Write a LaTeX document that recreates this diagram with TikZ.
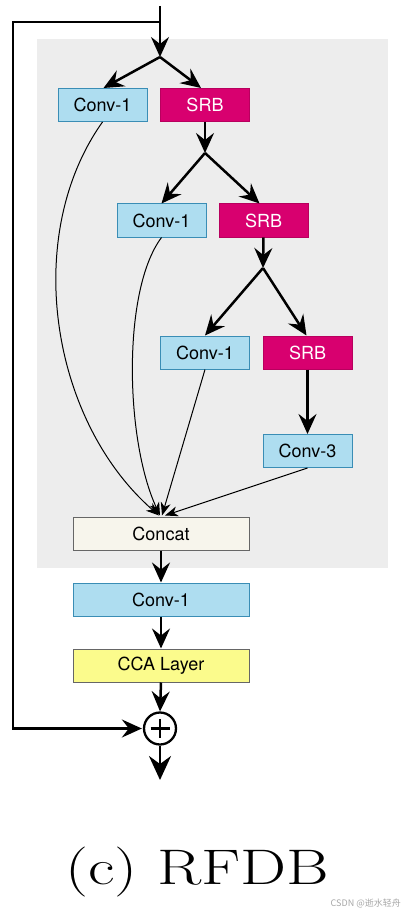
\documentclass[tikz,border=0pt]{standalone}
\usepackage{fontspec}
\newfontfamily\hv{TeX Gyre Heros}
\newfontfamily\cjk{Noto Sans CJK SC}
\usetikzlibrary{arrows.meta,calc}
\definecolor{bgray}{HTML}{EDEDED}
\definecolor{cblue}{HTML}{AEDDF0}
\definecolor{cblueb}{HTML}{3A8DB5}
\definecolor{srbm}{HTML}{D8006F}
\definecolor{srbb}{HTML}{B8005E}
\definecolor{ccat}{HTML}{F7F5EC}
\definecolor{ccay}{HTML}{FBFB8C}
\tikzset{
  blk/.style={draw, line width=1pt, minimum height=33pt, inner sep=0pt, font=\hv\fontsize{18}{20}\selectfont},
  conv/.style={blk, fill=cblue, draw=cblueb, minimum width=89pt},
  srb/.style={blk, fill=srbm, draw=srbb, text=white, minimum width=89pt},
  wide/.style={blk, draw=black!60, minimum width=176pt},
  thk/.style={line width=2.5pt, -{Stealth[length=20pt,width=18pt,inset=7pt]}},
  thkbig/.style={line width=2.5pt, -{Stealth[length=24pt,width=22pt,inset=8pt]}},
  thkn/.style={line width=2.5pt},
  thn/.style={line width=1pt, -{Stealth[length=13pt,width=10pt,inset=4pt]}},
}
\begin{document}
\begin{tikzpicture}[x=1pt,y=-1pt]
\useasboundingbox (0,0) rectangle (405,917);
\fill[bgray] (37,39) rectangle (388,568);

\node[conv] (c1) at (102.5,105) {Conv-1};
\node[srb]  (s1) at (205,105) {SRB};
\node[conv] (c2) at (161.5,220.5) {Conv-1};
\node[srb]  (s2) at (263.5,220.5) {SRB};
\node[conv] (c3) at (205,352.5) {Conv-1};
\node[srb]  (s3) at (307.5,352.5) {SRB};
\node[conv] (k3) at (307.5,451) {Conv-3};
\node[wide, fill=ccat] (cat) at (161,533.5) {Concat};
\node[wide, fill=cblue, draw=cblueb] (cf) at (161,599.5) {Conv-1};
\node[wide, fill=ccay] (cca) at (161,665.5) {CCA Layer};
\node[draw, circle, line width=2.3pt, minimum size=32pt, inner sep=0pt] (plus) at (160,728.5) {};
\draw[line width=2.4pt] ($(plus.center)+(0,-9.5)$) -- ($(plus.center)+(0,9.5)$) ($(plus.center)+(-9.5,0)$) -- ($(plus.center)+(9.5,0)$);

\coordinate (in) at (160,6);
\coordinate (sk) at (160,22);
\coordinate (b1) at (160,57);
\coordinate (b2) at (205,153);
\coordinate (b3) at (263,268);
\coordinate (out) at (160,780);
\coordinate (skl) at (13,22);
\coordinate (skb) at (13,728.5);

\draw[thk] (in) -- (b1);
\draw[thkn, line join=miter] (sk) -- (skl) -- (skb) -- ($(plus.west)+(-10,0)$);
\draw[thk] (skb) -- ($(plus.west)+(-1,0)$);
\draw[thk] (b1) -- ($(c1.north)+(1,0)$);
\draw[thk] (b1) -- ($(s1.north)+(-4,0)$);
\draw[thk] (s1.south) -- (b2);
\draw[thk] (b2) -- (c2.north);
\draw[thk] (b2) -- ($(s2.north)+(-4,0)$);
\draw[thk] (s2.south) -- (b3);
\draw[thk] (b3) -- (c3.north);
\draw[thk] (b3) -- ($(s3.north)+(-1,0)$);
\draw[thk] (s3.south) -- (k3.north);

\draw[thn] (c1.south) .. controls (22,235) and (50,420) .. ($(cat.north)+(-2,-1)$);
\draw[thn] (c2.south) .. controls (122,290) and (125,440) .. ($(cat.north)+(-1,-1)$);
\draw[thn] (c3.south) -- ($(cat.north)+(1,-1)$);
\draw[thn] (k3.south) -- ($(cat.north)+(4,-1)$);

\draw[thk] (cat.south) -- (cf.north);
\draw[thk] (cf.south) -- (cca.north);
\draw[thk] (cca.south) -- (plus.north);
\draw[thkbig] (plus.south) -- (out);

\node[anchor=base, inner sep=0pt, font=\fontsize{50}{56}\selectfont] (cap) at (197,884) {\scalebox{1.3}[1]{(c) RFDB}};
\node[anchor=base east, inner sep=0pt, text=black!35, font=\cjk\fontsize{9}{10}\selectfont] (wm) at (401,906) {CSDN @逝水轻舟};
\end{tikzpicture}
\end{document}
